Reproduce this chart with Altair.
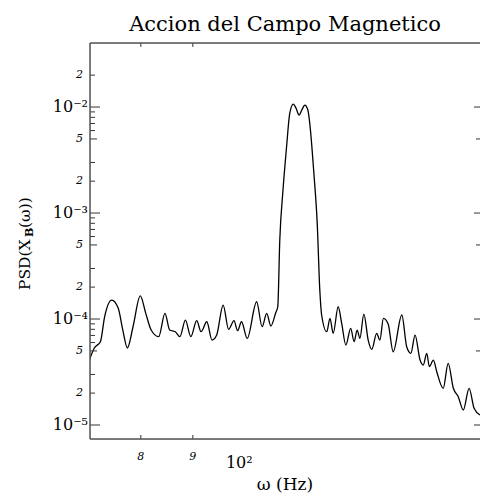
import altair as alt
import pandas as pd

# ---- data ----
freq = [71.2, 72.0, 73.0, 73.7, 74.9, 76.0, 76.8, 77.6, 78.6, 79.9,
        80.9, 81.9, 83.3, 84.5, 85.4, 86.5, 87.4, 88.5, 89.6, 90.8,
        91.7, 92.9, 94.0, 95.0, 96.4, 97.6, 98.8, 99.6, 100.5, 101.8,
        104.0, 105.3, 106.4, 107.4, 108.6, 109.1, 109.6, 110.4, 111.3, 112.1,
        113.0, 113.7, 114.5, 115.2, 116.0, 116.8, 117.3, 118.4, 119.3, 120.0,
        120.5, 121.9, 122.8, 123.7, 125.1, 126.1, 127.3, 128.7, 129.7, 130.6,
        131.4, 132.6, 133.9, 135.0, 136.5, 137.5, 138.6, 140.1, 141.7, 144.5,
        146.1, 147.5, 148.9, 150.6, 151.7, 152.9, 153.8, 155.2, 156.4, 158.7,
        160.5, 162.4, 164.2, 166.1, 168.3, 170.2, 172.5]
psd = [4.10e-5, 5.33e-5, 6.11e-5, 1.05e-4, 1.51e-4, 1.27e-4, 7.87e-5, 5.33e-5, 8.46e-5, 1.65e-4,
       1.13e-4, 7.87e-5, 6.81e-5, 1.13e-4, 7.87e-5, 7.59e-5, 6.81e-5, 9.78e-5, 6.81e-5, 9.64e-5,
       7.59e-5, 9.43e-5, 6.33e-5, 7.06e-5, 1.355e-4, 7.99e-5, 9.64e-5, 7.76e-5, 9.43e-5, 6.57e-5,
       1.456e-4, 8.46e-5, 1.13e-4, 8.59e-5, 1.147e-4, 1.306e-4, 5.56e-4, 1.648e-3, 4.22e-3, 8.72e-3,
       1.067e-2, 9.78e-3, 8.40e-3, 9.37e-3, 1.044e-2, 9.37e-3, 7.02e-3, 2.37e-3, 7.99e-4, 1.877e-4,
       1.091e-4, 7.59e-5, 1.015e-4, 7.33e-5, 1.306e-4, 9.11e-5, 5.68e-5, 8.17e-5, 6.11e-5, 7.87e-5,
       6.57e-5, 1.114e-4, 6.33e-5, 5.18e-5, 7.33e-5, 6.33e-5, 1.015e-4, 8.97e-5, 4.91e-5, 1.091e-4,
       5.48e-5, 4.75e-5, 7.06e-5, 4.10e-5, 3.68e-5, 4.75e-5, 3.55e-5, 4.10e-5, 3.18e-5, 2.22e-5,
       3.82e-5, 2.22e-5, 1.85e-5, 1.385e-5, 2.22e-5, 1.437e-5, 1.242e-5]

x_domain = [71.3, 172.5]
y_domain = [7.38e-6, 0.0402]

y_major_values = [1e-2, 1e-3, 1e-4, 1e-5]
y_major_labels = ["10⁻²", "10⁻³", "10⁻⁴", "10⁻⁵"]
y_minor_values = [2e-2, 5e-3, 2e-3, 5e-4, 2e-4, 5e-5, 2e-5]
y_minor_labels = ["2", "5", "2", "5", "2", "5", "2"]
x_major_values = [100]
x_major_labels = ["10²"]
x_minor_values = [80, 90]
x_minor_labels = ["8", "9"]

y_mid_ticks = [5e-3, 5e-4, 5e-5]
y_small_ticks = [2e-2, 9e-3, 8e-3, 7e-3, 6e-3, 3e-3, 2e-3,
                 9e-4, 8e-4, 7e-4, 6e-4, 3e-4, 2e-4,
                 9e-5, 8e-5, 7e-5, 6e-5, 3e-5, 2e-5]
right_major_ticks = [1e-2, 1e-3, 1e-4, 1e-5]
right_minor_ticks = [5e-3, 5e-4, 5e-5]
x_minor_ticks = [80, 90]

title_text = "Accion del Campo Magnetico"
x_title = "ω (Hz)"
y_title_parts = ["PSD(X", "B", "(ω))"]

W, H = 390, 396
SERIF = "DejaVu Serif"
FRAME = "#555555"
TICK = "#333333"

xs = alt.Scale(type="log", domain=x_domain, nice=False)
ys = alt.Scale(type="log", domain=y_domain, nice=False)

df = pd.DataFrame({"freq": freq, "psd": psd})

line = alt.Chart(df).mark_line(color="black", strokeWidth=1.3, clip=True,
                               interpolate="monotone").encode(
    x=alt.X("freq:Q", scale=xs, axis=None),
    y=alt.Y("psd:Q", scale=ys, axis=None),
)


def yticks(vals, x0, x1):
    d = pd.DataFrame({"v": vals})
    return alt.Chart(d).mark_rule(color=TICK, strokeWidth=1).encode(
        y=alt.Y("v:Q", scale=ys, axis=None), x=alt.value(x0), x2=alt.value(x1))


def xticks(vals, y0, y1):
    d = pd.DataFrame({"v": vals})
    return alt.Chart(d).mark_rule(color=TICK, strokeWidth=1).encode(
        x=alt.X("v:Q", scale=xs, axis=None), y=alt.value(y0), y2=alt.value(y1))


def ylabels(vals, labels, x0, size, style):
    d = pd.DataFrame({"v": vals, "t": labels})
    return alt.Chart(d).mark_text(align="right", baseline="middle", font=SERIF, fontSize=size,
                                  fontStyle=style, color="black").encode(
        y=alt.Y("v:Q", scale=ys, axis=None), x=alt.value(x0), text="t:N")


def xlabels(vals, labels, y0, size, style):
    d = pd.DataFrame({"v": vals, "t": labels})
    return alt.Chart(d).mark_text(align="center", baseline="alphabetic", font=SERIF, fontSize=size,
                                  fontStyle=style, color="black").encode(
        x=alt.X("v:Q", scale=xs, axis=None), y=alt.value(y0), text="t:N")


one = alt.Data(values=[{"k": 1}])
frame_top = alt.Chart(one).mark_rule(color=FRAME, strokeWidth=1.5).encode(
    x=alt.value(0), x2=alt.value(W), y=alt.value(0))
frame_left = alt.Chart(one).mark_rule(color=FRAME, strokeWidth=1.5).encode(
    x=alt.value(0), y=alt.value(0), y2=alt.value(H))
frame_bottom = alt.Chart(one).mark_rule(color=FRAME, strokeWidth=1.5).encode(
    x=alt.value(0), x2=alt.value(W), y=alt.value(H))

ytitle1 = alt.Chart(one).mark_text(text=y_title_parts[0], angle=270, align="left", baseline="middle",
                                   font=SERIF, fontSize=15.5, color="black").encode(
    x=alt.value(-65.5), y=alt.value(247))
ytitle2 = alt.Chart(one).mark_text(text=y_title_parts[1], angle=270, align="left", baseline="middle",
                                   font=SERIF, fontSize=11, fontWeight="bold", color="black").encode(
    x=alt.value(-60), y=alt.value(194))
ytitle3 = alt.Chart(one).mark_text(text=y_title_parts[2], angle=270, align="left", baseline="middle",
                                   font=SERIF, fontSize=15.5, color="black").encode(
    x=alt.value(-65.5), y=alt.value(185))
xtitle = alt.Chart(one).mark_text(text=x_title, align="center", baseline="alphabetic",
                                  font=SERIF, fontSize=17, color="black").encode(
    x=alt.value(195), y=alt.value(H + 51))
title = alt.Chart(one).mark_text(text=title_text, align="center", baseline="alphabetic",
                                 font=SERIF, fontSize=21, color="black").encode(
    x=alt.value(195), y=alt.value(-12))

chart = alt.layer(
    line,
    yticks(y_major_values, 0, 10),
    yticks(y_mid_ticks, 0, 7),
    yticks(y_small_ticks, 0, 5),
    yticks(right_major_ticks, W - 6, W),
    yticks(right_minor_ticks, W - 4, W),
    xticks(x_minor_ticks, H - 4, H),
    xticks(x_minor_ticks, 0, 4),
    frame_top, frame_left, frame_bottom,
    ylabels(y_major_values, y_major_labels, -2, 16, "normal"),
    ylabels(y_minor_values, y_minor_labels, -7, 11, "italic"),
    xlabels(x_major_values, x_major_labels, H + 29, 16, "normal"),
    xlabels(x_minor_values, x_minor_labels, H + 21, 11, "italic"),
    ytitle1, ytitle2, ytitle3, xtitle, title,
).properties(
    width=W, height=H,
    autosize=alt.AutoSizeParams(type="none"),
    padding={"left": 90, "top": 43, "right": 0, "bottom": 64},
).configure_view(stroke=None).configure(background="white")

chart.save("out.html", embed_options={"renderer": "svg", "actions": False})
